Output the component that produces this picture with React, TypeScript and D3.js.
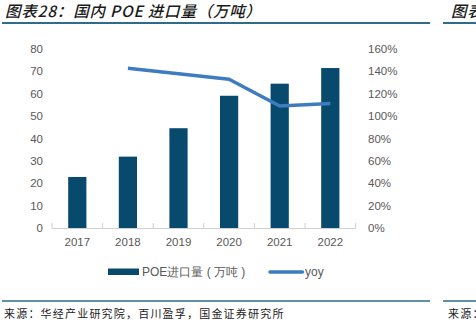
import React from "react";
import * as d3 from "d3";

const years = ["2017", "2018", "2019", "2020", "2021", "2022"];
const imports = [22.8, 31.9, 44.6, 59.1, 64.5, 71.5];
const yoyYears = ["2018", "2019", "2020", "2021", "2022"];
const yoy = [1.427, 1.379, 1.329, 1.09, 1.113];
const leftTicks = [0, 10, 20, 30, 40, 50, 60, 70, 80];
const rightTicks = [0, 0.2, 0.4, 0.6, 0.8, 1.0, 1.2, 1.4, 1.6];

const W = 476;
const H = 329;
const BAR = "#084a6e";
const LINE = "#3f7bbf";
const TXT = "#595959";
const FONT = "'Liberation Sans', Arial, sans-serif";
const CJK = "'Noto Sans CJK SC', sans-serif";

export default function App() {
  const x = d3.scaleBand<string>().domain(years).range([52, 355.6]).paddingInner(0.64).paddingOuter(0.32);
  const y = d3.scaleLinear().domain([0, 80]).range([228, 49]);
  const yR = d3.scaleLinear().domain([0, 1.6]).range([228, 49]);
  const line = d3
    .line<number>()
    .x((_, i) => (x(yoyYears[i]) as number) + x.bandwidth() / 2)
    .y((d) => yR(d));
  const boundaries = d3.range(years.length + 1).map((i) => 52 + i * x.step());

  return (
    <svg width={W} height={H} style={{ position: "absolute", left: 0, top: 0, background: "#fff" }}>
      <text x={5} y={17} fontFamily={CJK} fontSize={15.5} fontWeight={500} fontStyle="italic" letterSpacing={0.8} fill="#1a1a1a">
        图表28：国内 POE 进口量（万吨）
      </text>
      <text x={451} y={17} fontFamily={CJK} fontSize={15.5} fontWeight={500} fontStyle="italic" letterSpacing={0.8} fill="#1a1a1a">
        图表
      </text>
      <line x1={2} x2={430} y1={23} y2={23} stroke="#2f6b8c" strokeWidth={2} />
      <line x1={443} x2={476} y1={23} y2={23} stroke="#2f6b8c" strokeWidth={2} />

      {/* left axis labels */}
      {leftTicks.map((t) => (
        <text key={"l" + t} x={43} y={y(t)} dy="0.35em" textAnchor="end" fontFamily={FONT} fontSize={11.5} fill={TXT}>
          {t}
        </text>
      ))}
      {rightTicks.map((t) => (
        <text key={"r" + t} x={368} y={yR(t)} dy="0.35em" textAnchor="start" fontFamily={FONT} fontSize={11.5} fill={TXT}>
          {Math.round(t * 100) + "%"}
        </text>
      ))}

      {/* bars */}
      {years.map((yr, i) => (
        <rect key={yr} x={x(yr)} y={y(imports[i])} width={x.bandwidth()} height={y(0) - y(imports[i])} fill={BAR} />
      ))}

      {/* x axis */}
      <line x1={52} x2={355.6} y1={228.5} y2={228.5} stroke="#d0d0d0" strokeWidth={1} />
      {boundaries.map((b, i) => (
        <line key={"tk" + i} x1={b} x2={b} y1={223} y2={228.5} stroke="#d0d0d0" strokeWidth={1} />
      ))}
      {years.map((yr) => (
        <text key={"x" + yr} x={(x(yr) as number) + x.bandwidth() / 2} y={242} dy="0.35em" textAnchor="middle" fontFamily={FONT} fontSize={11.5} fill={TXT}>
          {yr}
        </text>
      ))}

      <path d={line(yoy) || ""} fill="none" stroke={LINE} strokeWidth={3.5} strokeLinejoin="round" />

      {/* legend */}
      <rect x={108} y={268.5} width={31} height={6.5} fill={BAR} />
      <text x={142} y={272} dy="0.35em" fontFamily={FONT} fontSize={12} fill={TXT}>
        POE进口量 ( 万吨 )
      </text>
      <line x1={270} x2={302.5} y1={272} y2={272} stroke={LINE} strokeWidth={3.5} strokeLinecap="round" />
      <text x={305} y={272} dy="0.35em" fontFamily={FONT} fontSize={12} fill={TXT}>
        yoy
      </text>

      {/* footer */}
      <line x1={2} x2={430} y1={301} y2={301} stroke="#2f6b8c" strokeWidth={1.5} />
      <line x1={443} x2={476} y1={301} y2={301} stroke="#2f6b8c" strokeWidth={1.5} />
      <text x={4} y={314} dy="0.35em" fontFamily={CJK} fontSize={11} letterSpacing={1.2} fill="#222">
        来源：华经产业研究院，百川盈孚，国金证券研究所
      </text>
      <text x={448} y={314} dy="0.35em" fontFamily={CJK} fontSize={11} letterSpacing={1.2} fill="#222">
        来源：
      </text>
    </svg>
  );
}
